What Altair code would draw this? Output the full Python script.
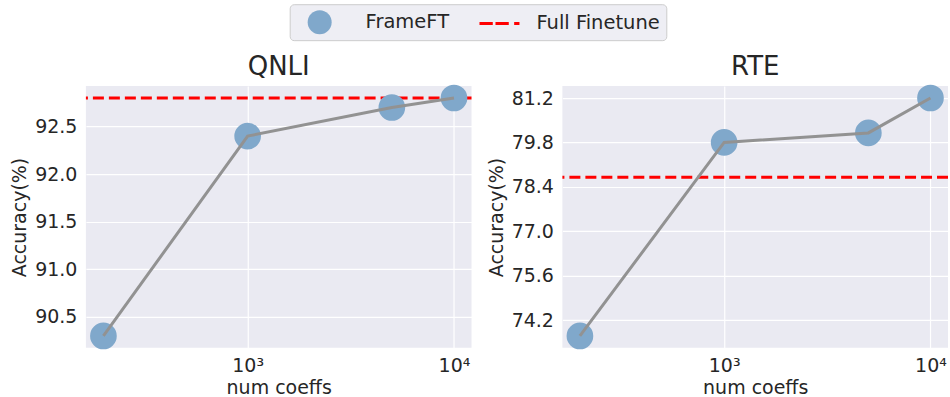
import altair as alt
import pandas as pd

# ---- data ----
coeffs = [200, 1000, 5000, 10000]
qnli_acc = [90.3, 92.4, 92.7, 92.8]
rte_acc = [73.7, 79.8, 80.1, 81.2]
tasks = ["QNLI", "RTE"]
full_finetune = [92.8, 78.7]
qnli_yticks = [90.5, 91.0, 91.5, 92.0, 92.5]
rte_yticks = [74.2, 75.6, 77.0, 78.4, 79.8, 81.2]
x_ticks = [1000, 10000]
series_names = ["FrameFT", "Full Finetune"]

FONT = "DejaVu Sans"
TXT = "#262626"
BLUE = "#80A8CB"
GRAY = "#929292"
# dashed-line legend symbol
DASH_PATH = ("M-0.917,-0.125H0.192V0.125H-0.917Z "
             "M0.417,-0.125H1.525V0.125H0.417Z "
             "M1.975,-0.125H2.417V0.125H1.975Z")

x_domain = [164.5, 12161]


def ydom(vals):
    lo, hi = min(vals), max(vals)
    m = (hi - lo) * 0.05
    return [lo - m, hi + m]


def panel(task, acc, full, yticks):
    df = pd.DataFrame({"coeffs": coeffs, "acc": acc, "series": [series_names[0]] * len(coeffs)})
    dom = ydom(acc + [full])
    xscale = alt.Scale(type="log", domain=x_domain, nice=False)
    xaxis = alt.Axis(values=x_ticks, title="num coeffs", titlePadding=3,
                     labelExpr="datum.value == 1000 ? '10³' : '10⁴'")
    yscale = alt.Scale(domain=dom, nice=False, zero=False)
    yaxis = alt.Axis(values=yticks, format=".1f", title="Accuracy(%)")

    rule = alt.Chart(pd.DataFrame({"acc": [full]})).mark_rule(
        color="#FF0000", strokeWidth=3, strokeDash=[11, 5]
    ).encode(y=alt.Y("acc:Q", scale=yscale, axis=yaxis))
    pts = alt.Chart(df).mark_point(filled=True, size=713, opacity=1, strokeWidth=0).encode(
        x=alt.X("coeffs:Q", scale=xscale, axis=xaxis),
        y=alt.Y("acc:Q", scale=yscale, axis=yaxis),
        color=alt.Color("series:N",
                        scale=alt.Scale(domain=series_names, range=[BLUE, "#FF0000"]),
                        legend=alt.Legend(title=None)),
        shape=alt.Shape("series:N",
                        scale=alt.Scale(domain=series_names, range=["circle", DASH_PATH]),
                        legend=alt.Legend(title=None)),
    )
    line = alt.Chart(df).mark_line(color=GRAY, strokeWidth=3).encode(
        x=alt.X("coeffs:Q", scale=xscale, axis=xaxis),
        y=alt.Y("acc:Q", scale=yscale, axis=yaxis),
    )
    return alt.layer(rule, pts, line).properties(
        width=386, height=262,
        title=alt.TitleParams(task, fontSize=26, font=FONT, fontWeight="normal",
                              color=TXT, offset=5),
    )


left = panel(tasks[0], qnli_acc, full_finetune[0], qnli_yticks)
right = panel(tasks[1], rte_acc, full_finetune[1], rte_yticks)

chart = alt.hconcat(left, right, spacing=91, bounds="flush").resolve_scale(
    color="shared", shape="shared"
).properties(
    padding={"left": 10, "top": 3, "right": 0, "bottom": 0},
    background="white",
).configure_view(
    fill="#EAEAF2", stroke=None
).configure_axis(
    grid=True, gridColor="white", gridWidth=1.2, domain=False, ticks=False,
    labelFont=FONT, labelFontSize=19, labelColor=TXT, labelPadding=9,
    titleFont=FONT, titleFontSize=19, titleColor=TXT, titleFontWeight="normal",
    titlePadding=5,
).configure_legend(
    orient="none", legendX=204, legendY=-82, direction="horizontal",
    fillColor="#EEEEF4", strokeColor="#CCCCCC", cornerRadius=4, padding=6,
    symbolSize=576, symbolStrokeWidth=0, symbolOpacity=1, symbolOffset=12,
    labelFont=FONT, labelFontSize=19.5, labelColor=TXT, labelOffset=34,
    columnPadding=17,
)

chart.save("out.html", embed_options={"renderer": "svg", "actions": False})
